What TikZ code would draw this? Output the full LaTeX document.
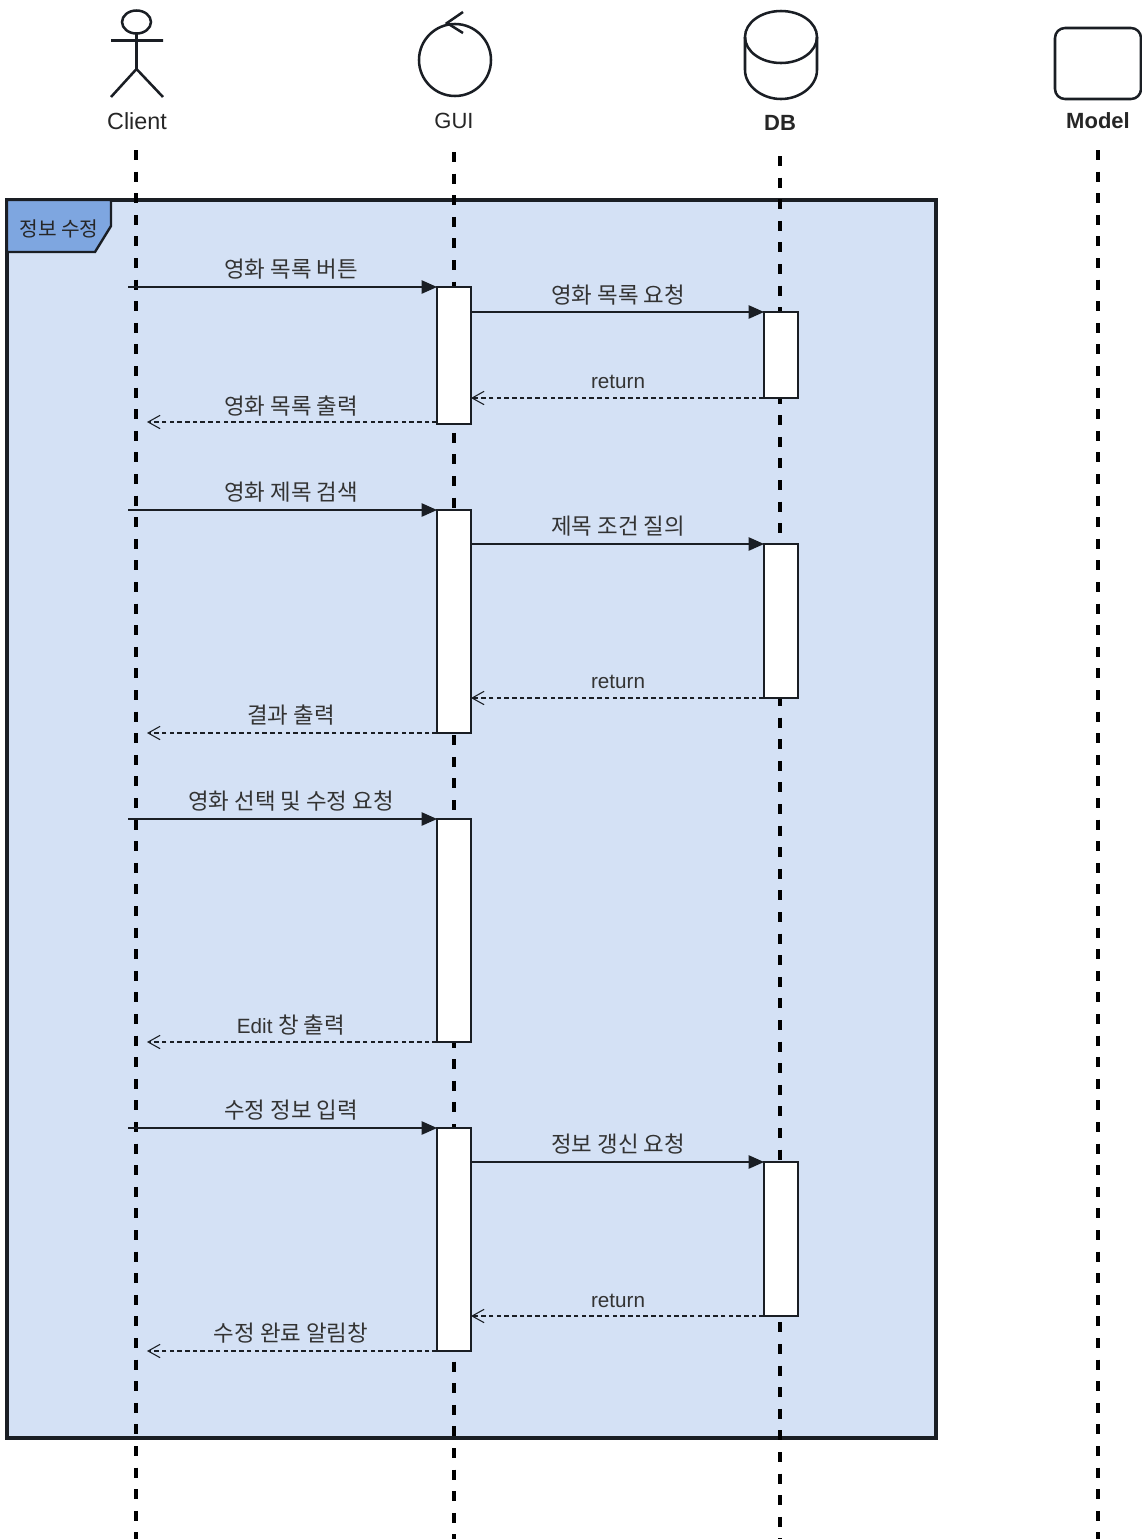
\documentclass[tikz,border=0pt]{standalone}
\usepackage{fontspec}
\setmainfont{Liberation Sans}
\newfontfamily\kr{Noto Sans CJK KR}
\definecolor{framefill}{RGB}{212,225,245}
\definecolor{tabfill}{RGB}{126,166,224}
\definecolor{inkdark}{RGB}{26,30,36}
\usetikzlibrary{arrows.meta}

\begin{document}
\begin{tikzpicture}[x=0.75pt, y=-0.75pt,
			icon/.style={draw=inkdark, line width=1.9pt},
			lifeline/.style={draw=black, line width=2.4pt, dash pattern=on 7.5pt off 8.7pt},
			actbox/.style={draw=inkdark, fill=white, line width=1pt, minimum width=25.5pt, inner sep=0pt, outer sep=0pt},
			callarrow/.style={draw=inkdark, line width=1pt, -{Triangle[length=11.5pt,width=10pt]}},
			backarrow/.style={draw=inkdark, line width=0.8pt, dash pattern=on 3.4pt off 2.4pt, -{Straight Barb[length=9pt,width=10pt]}},
			actorname/.style={font=\fontsize{16.5}{18}\selectfont, text=black!85},
			msg/.style={font=\kr\fontsize{16.8}{18}\selectfont, text=black!80, inner sep=0pt},
			msgplain/.style={msg, font=\fontsize{15.5}{18}\selectfont}]
			% Bildbereich
			\useasboundingbox (0,0) rectangle (1142,1539);
			% Rahmen
			\draw[draw=inkdark, fill=framefill, line width=2.3pt] (7,200) rectangle (936,1438);
			\draw[draw=inkdark, fill=tabfill, line width=1.8pt] (7,200) -- (111,200) -- (111,226) -- (95,252) -- (7,252) -- cycle;
			\node[font=\kr\fontsize{15.2}{17}\selectfont, text=black!85, inner sep=0pt] (frametitle) at (59,229) {정보 수정};
			% Lebenslinien
			\foreach \name/\x/\top in {client/136/150, gui/454/152, db/780/156, model/1098/150} {
				\coordinate (\name top) at (\x,\top);
				\coordinate (\name bot) at (\x,1539);
				\draw[lifeline] (\name top) -- (\name bot);
			}
			% Symbole
			\draw[icon] (136.5,22) circle [x radius=14.5, y radius=11.5];
			\draw[icon] (136.5,33.5) -- (136.5,69) (111,40.5) -- (163,40.5) (111,97) -- (136.5,69) -- (163,97);
			\draw[icon] (455,60) circle [radius=36];
			\draw[icon] (463,12) -- (447,23) -- (463,33);
			\draw[icon] (781,37) circle [x radius=36, y radius=26];
			\draw[icon] (745,37) -- (745,70) .. controls (745,86) and (762,99) .. (781,99) .. controls (800,99) and (817,86) .. (817,70) -- (817,37);
			\draw[icon, rounded corners=7.5pt] (1055,28) rectangle (1141,99);
			% Namen
			\node[actorname, font=\fontsize{17.5}{18}\selectfont] (clientname) at (137,121) {Client};
			\node[actorname] (guiname) at (454,121) {GUI};
			\node[actorname, font=\fontsize{16.5}{18}\selectfont\bfseries] (dbname) at (780,123) {DB};
			\node[actorname, font=\fontsize{16.5}{18}\selectfont\bfseries] (modelname) at (1098,121) {Model};
			% Aktivierungen
			\foreach \n/\c/\h in {1/355.5/137, 2/621.5/223, 3/930.5/223, 4/1239.5/223}
				\node[actbox, minimum height=\h*0.75pt] (gui\n) at (454,\c) {};
			\foreach \n/\c/\h in {1/355/86, 2/621/154, 4/1239/154}
				\node[actbox, minimum height=\h*0.75pt] (db\n) at (781,\c) {};
			% Nachrichten Client - GUI
			\foreach \n/\y/\r in {1/287/422, 2/510/733, 3/819/1042, 4/1128/1351} {
				\coordinate (clientin\n) at (128,\y);
				\coordinate (clientout\n) at (147,\r);
				\draw[callarrow] (clientin\n) -- (gui\n.north west);
				\draw[backarrow] (gui\n.west |- clientout\n) -- (clientout\n);
			}
			% Nachrichten GUI - DB
			\foreach \n in {1,2,4} {
				\draw[callarrow] (gui\n.east |- db\n.north) -- (db\n.north west);
				\draw[backarrow] (db\n.south west) -- (gui\n.east |- db\n.south);
			}
			% Beschriftung
			\node[msg] (send1) at (291,269) {영화 목록 버튼};
			\node[msg] (ask1) at (618,295) {영화 목록 요청};
			\node[msgplain] (ret1) at (618,381.5) {return};
			\node[msg] (show1) at (291,406) {영화 목록 출력};
			\node[msg] (send2) at (291,492) {영화 제목 검색};
			\node[msg] (ask2) at (618,526) {제목 조건 질의};
			\node[msgplain] (ret2) at (618,682) {return};
			\node[msg] (show2) at (291,715) {결과 출력};
			\node[msg] (send3) at (291,801) {영화 선택 및 수정 요청};
			\node[msgplain] (show3) at (291,1025) {Edit {\kr\fontsize{16.8}{18}\selectfont 창 출력}};
			\node[msg] (send4) at (291,1110) {수정 정보 입력};
			\node[msg] (ask4) at (618,1144) {정보 갱신 요청};
			\node[msgplain] (ret4) at (618,1300.5) {return};
			\node[msg] (show4) at (291,1333) {수정 완료 알림창};
		\end{tikzpicture}
\end{document}
